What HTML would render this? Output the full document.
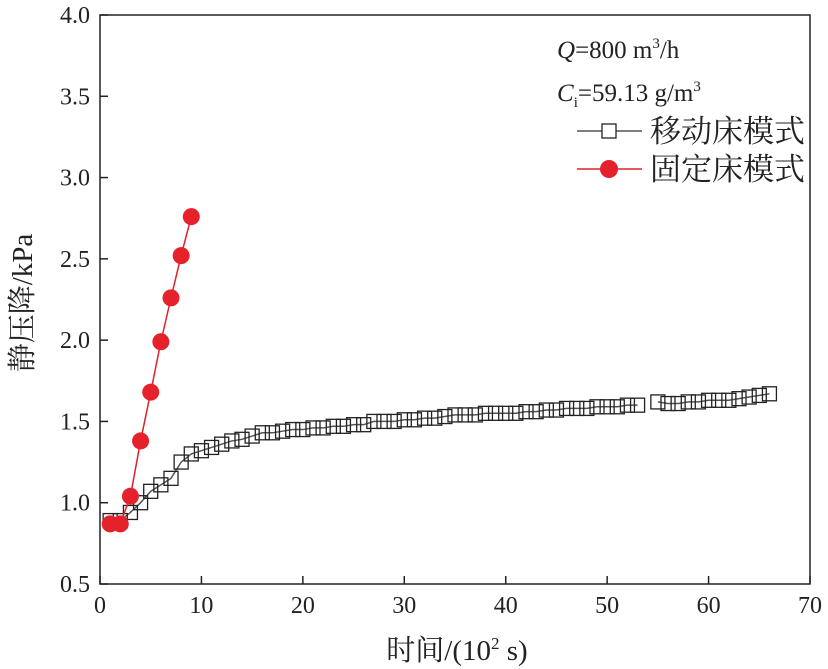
<!DOCTYPE html>
<html><head><meta charset="utf-8"><style>
html,body{margin:0;padding:0;background:#fff;}
svg{display:block;font-family:"Liberation Serif","Noto Serif CJK SC",serif;}
</style></head><body>
<svg id="chart" width="828" height="669"></svg>
<script>
const xTicks=[0,10,20,30,40,50,60,70];
const yTicks=[0.5,1.0,1.5,2.0,2.5,3.0,3.5,4.0];
const movingT1=[1,2,3,4,5,6,7,8,9,10,11,12,13,14,15,16,17,18,19,20,21,22,23,24,25,26,27,28,29,30,31,32,33,34,35,36,37,38,39,40,41,42,43,44,45,46,47,48,49,50,51,52,53];
const movingV1=[0.89,0.89,0.94,1.00,1.07,1.11,1.15,1.25,1.30,1.32,1.34,1.36,1.38,1.39,1.41,1.43,1.43,1.44,1.45,1.45,1.46,1.46,1.47,1.47,1.48,1.48,1.50,1.50,1.50,1.51,1.51,1.52,1.52,1.53,1.54,1.54,1.54,1.55,1.55,1.55,1.55,1.56,1.56,1.57,1.57,1.58,1.58,1.58,1.59,1.59,1.59,1.60,1.60];
const movingT2=[55,56,57,58,59,60,61,62,63,64,65,66];
const movingV2=[1.62,1.61,1.61,1.62,1.62,1.63,1.63,1.63,1.64,1.65,1.66,1.67];
const fixedT=[1,2,3,4,5,6,7,8,9];
const fixedV=[0.87,0.87,1.04,1.38,1.68,1.99,2.26,2.52,2.76];

const NS="http://www.w3.org/2000/svg";
const svg=document.getElementById('chart');
const X0=100,X1=810,Y0=584,Y1=15;
function sx(t){return X0+(t-0)/70*(X1-X0);}
function sy(v){return Y0-(v-0.5)/3.5*(Y0-Y1);}
function mk(tag,attrs,parent){const e=document.createElementNS(NS,tag);for(const k in attrs)e.setAttribute(k,attrs[k]);(parent||svg).appendChild(e);return e;}

const frame=mk('rect',{x:X0,y:Y1,width:X1-X0,height:Y0-Y1,fill:'none',stroke:'#222','stroke-width':1.5});



xTicks.forEach(t=>{
  const l=mk('line',{x1:sx(t),x2:sx(t),y1:Y0,y2:Y0-8,stroke:'#222','stroke-width':1.5});
  
  
  const tx=mk('text',{x:sx(t),y:Y0+29,'font-size':24,'text-anchor':'middle',fill:'#222'});
  tx.textContent=t;
  
  
});
yTicks.forEach(v=>{
  const l=mk('line',{x1:X0,x2:X0+8,y1:sy(v),y2:sy(v),stroke:'#222','stroke-width':1.5});
  
  
  const tx=mk('text',{x:X0-10,y:sy(v)+8,'font-size':24,'text-anchor':'end',fill:'#222'});
  tx.textContent=v.toFixed(1);
  
  
});

function drawLine(ts,vs,color,name){
  const p=mk('polyline',{points:ts.map((t,i)=>sx(t)+','+sy(vs[i])).join(' '),fill:'none',stroke:color,'stroke-width':1.5});
  
  
}
function drawSquares(ts,vs){
  ts.forEach((t,i)=>{
    const r=mk('rect',{x:sx(t)-7,y:sy(vs[i])-7,width:14,height:14,fill:'none',stroke:'#222','stroke-width':1.3});
    
    
  });
}
drawLine(movingT1,movingV1,'#555','moving-bed-line');
drawLine(movingT2,movingV2,'#555','moving-bed-line-2');
drawSquares(movingT1,movingV1);
drawSquares(movingT2,movingV2);
drawLine(fixedT,fixedV,'#e0202a','fixed-bed-line');
fixedT.forEach((t,i)=>{
  const c=mk('circle',{cx:sx(t),cy:sy(fixedV[i]),r:8.5,fill:'#e5212b'});
  
  
});

const a1=mk('text',{x:557,y:58,'font-size':25,fill:'#222'});
a1.innerHTML='<tspan font-style="italic">Q</tspan>=800 m<tspan font-size="15" dy="-10">3</tspan><tspan dy="10">/h</tspan>';


const a2=mk('text',{x:557,y:101,'font-size':25,fill:'#222'});
a2.innerHTML='<tspan font-style="italic">C</tspan><tspan font-size="15" dy="6">i</tspan><tspan dy="-6">=59.13 g/m</tspan><tspan font-size="15" dy="-10">3</tspan>';



const l1=mk('line',{x1:577,x2:642,y1:131,y2:131,stroke:'#555','stroke-width':1.5});


const s1=mk('rect',{x:602,y:124,width:14,height:14,fill:'#fff',stroke:'#222','stroke-width':1.3});


const t1=mk('text',{x:650,y:142,'font-size':31,fill:'#222'});
t1.textContent='移动床模式';



const l2=mk('line',{x1:577,x2:642,y1:169,y2:169,stroke:'#e0202a','stroke-width':1.5});


const c2=mk('circle',{cx:609,cy:169,r:9,fill:'#e5212b'});


const t2=mk('text',{x:650,y:180,'font-size':31,fill:'#222'});
t2.textContent='固定床模式';



const xl=mk('text',{x:457,y:660,'font-size':29,'text-anchor':'middle',fill:'#222'});
xl.innerHTML='时间/(10<tspan font-size="17" dy="-11">2</tspan><tspan dy="11"> s)</tspan>';


const yl=mk('text',{x:0,y:0,'font-size':29,'text-anchor':'middle',fill:'#222',transform:'translate(32,303) rotate(-90)'});
yl.textContent='静压降/kPa';


</script>
</body></html>
